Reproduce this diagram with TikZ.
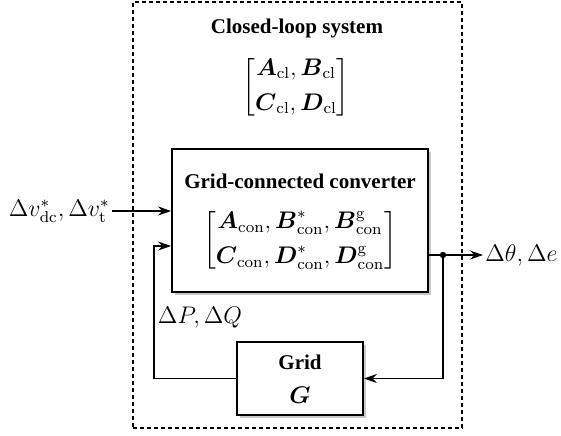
\documentclass[tikz,border=0pt]{standalone}
\usepackage{amsmath}
\usepackage{amssymb}
\usepackage[no-math]{fontspec}
\setmainfont{Liberation Serif}
\usepackage{tikz}
\usetikzlibrary{shapes,arrows,arrows.meta,positioning,calc,shadows}
\definecolor{shadowgray}{RGB}{150,150,150}

\begin{document}
\begin{tikzpicture}[
    x=0.5pt, y=-0.5pt,
    block/.style={rectangle, draw=black, fill=white, line width=0.9pt, text centered,
                  drop shadow={shadow xshift=1.3pt, shadow yshift=-1.3pt, fill=shadowgray}},
    sysbox/.style={rectangle, draw=black, line width=0.8pt, dash pattern=on 2.2pt off 1.3pt},
    title/.style={font=\fontsize{10.5}{12.6}\selectfont\bfseries},
    mathtxt/.style={font=\fontsize{12}{14.4}\selectfont},
    arrow/.style={-{Stealth[length=6.5pt, width=4.5pt]}, line width=0.85pt}
]
\useasboundingbox (0,0) rectangle (561,435);

% Closed-loop system
\node[sysbox, minimum width=164.5pt, minimum height=213pt] (sys) at (297.5,215) {};
\node[title] (systitle) at (297,28) {Closed-loop system};
\node[mathtxt] (clmat) at (296,87) {$\begin{bmatrix}\boldsymbol{A}_{\mathrm{cl}}, \boldsymbol{B}_{\mathrm{cl}}\\[3pt] \boldsymbol{C}_{\mathrm{cl}}, \boldsymbol{D}_{\mathrm{cl}}\end{bmatrix}$};

% Converter
\node[block, minimum width=128pt, minimum height=71.5pt] (conv) at (300,220.5) {};
\node[title] (convtitle) at (300,181) {Grid-connected converter};
\node[mathtxt] (convmat) at (300,240.5) {$\begin{bmatrix}\boldsymbol{A}_{\mathrm{con}}, \boldsymbol{B}_{\mathrm{con}}^{*}, \boldsymbol{B}_{\mathrm{con}}^{\mathrm{g}}\\[3pt] \boldsymbol{C}_{\mathrm{con}}, \boldsymbol{D}_{\mathrm{con}}^{*}, \boldsymbol{D}_{\mathrm{con}}^{\mathrm{g}}\end{bmatrix}$};

% Grid
\node[block, minimum width=63pt, minimum height=36.5pt] (grid) at (300,378.5) {};
\node[title] (gridtitle) at (300,362) {Grid};
\node[mathtxt] (gridsym) at (300,395) {$\boldsymbol{G}$};

% Signals
\node[mathtxt, anchor=east, inner sep=1pt] (uin) at (112,211) {$\Delta v_{\mathrm{dc}}^{*}, \Delta v_{\mathrm{t}}^{*}$};
\node[mathtxt, anchor=west, inner sep=1pt] (yout) at (483,255) {$\Delta\theta, \Delta e$};
\node[mathtxt] (pq) at (200,318) {$\Delta P, \Delta Q$};
\coordinate (fbl) at (154,246);
\fill (443,255) circle (1.6pt) coordinate (dot);

% Connections
\draw[arrow] (uin.east) -- (uin -| conv.west);
\draw[arrow] (dot -| conv.east) -- (yout.west);
\draw[arrow] (dot) |- (grid.east);
\draw[arrow] (grid.west) -| (fbl) -- (fbl -| conv.west);

\end{tikzpicture}
\end{document}
